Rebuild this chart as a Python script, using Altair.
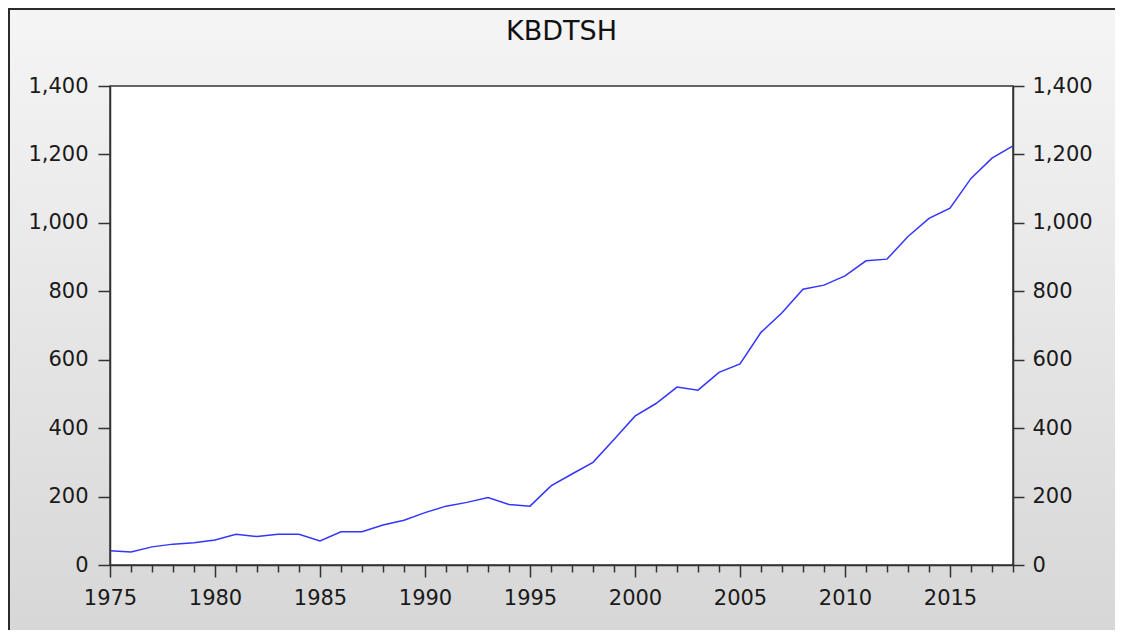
import altair as alt
import pandas as pd

years = list(range(1975, 2019))
kbdtsh = [42, 38, 53, 61, 65, 73, 90, 83, 90, 90,
          70, 97, 97, 117, 131, 153, 172, 183, 197, 177,
          172, 231, 266, 300, 367, 435, 472, 520, 511, 563,
          588, 680, 737, 806, 818, 845, 889, 894, 960, 1013,
          1043, 1130, 1189, 1225]
y_ticks = [0, 200, 400, 600, 800, 1000, 1200, 1400]
title_text = "KBDTSH"

df = pd.DataFrame({"year": years, "KBDTSH": kbdtsh})

W, H = 903, 479
FONT = "DejaVu Sans"
AX = "#333333"

common_axis = dict(domainColor=AX, domainWidth=1.5, tickColor=AX, tickWidth=1.5,
                   labelFont=FONT, labelFontSize=21, labelColor="#1a1a1a",
                   grid=False, zindex=1, title=None)

xenc = alt.X("year:Q",
             scale=alt.Scale(domain=[1975, 2018], nice=False, zero=False),
             axis=alt.Axis(values=years, format="d",
                           labelExpr="datum.value % 5 === 0 ? datum.label : ''",
                           tickSize={"condition": {"test": "datum.value % 5 === 0", "value": 12}, "value": 7},
                           labelPadding=10, labelOverlap=False, labelFlush=False,
                           **common_axis))
yscale = alt.Scale(domain=[0, 1400], nice=False, zero=True)

grad = alt.LinearGradient(gradient="linear",
                          stops=[alt.GradientStop(color="#f5f5f5", offset=0),
                                 alt.GradientStop(color="#d7d7d7", offset=1)],
                          x1=0, x2=0, y1=0, y2=1)

one = alt.Data(values=[{"t": title_text}])

bg = alt.Chart(one).mark_rect(fill=grad, strokeWidth=0).encode(
    x=alt.value(-102), x2=alt.value(W + 102), y=alt.value(-78), y2=alt.value(H + 65))

frame_left = alt.Chart(one).mark_rule(color="#2b2b2b", strokeWidth=2).encode(
    x=alt.value(-101), y=alt.value(-78), y2=alt.value(H + 65))
frame_top = alt.Chart(one).mark_rule(color="#2b2b2b", strokeWidth=2).encode(
    x=alt.value(-102), x2=alt.value(W + 102), y=alt.value(-77))

plot_bg = alt.Chart(one).mark_rect(fill="white", stroke=AX, strokeWidth=1.5).encode(
    x=alt.value(0), x2=alt.value(W), y=alt.value(0), y2=alt.value(H))

title = alt.Chart(one).mark_text(font=FONT, fontSize=27, color="#111111", align="center",
                                 baseline="alphabetic").encode(
    text="t:N", x=alt.value(W / 2), y=alt.value(-46))

base = alt.Chart(df)
line_left = base.mark_line(color="#3535ff", strokeWidth=1.5).encode(
    x=xenc,
    y=alt.Y("KBDTSH:Q", scale=yscale,
            axis=alt.Axis(orient="left", values=y_ticks, format=",d", tickSize=12,
                          labelPadding=10, **common_axis)))
line_right = base.mark_line(color="#3535ff", opacity=0).encode(
    x=xenc,
    y=alt.Y("KBDTSH:Q", scale=yscale,
            axis=alt.Axis(orient="right", values=y_ticks, format=",d", tickSize=11,
                          labelPadding=8, **common_axis)))

chart = alt.layer(bg, frame_left, frame_top, plot_bg, title, line_left, line_right).resolve_scale(
    y="independent").properties(
    width=W, height=H,
    autosize=alt.AutoSizeParams(type="none"),
    padding={"left": 102, "top": 78, "right": 102, "bottom": 65},
).configure_view(strokeWidth=0)

chart.save("out.html", embed_options={"renderer": "svg", "actions": False})
